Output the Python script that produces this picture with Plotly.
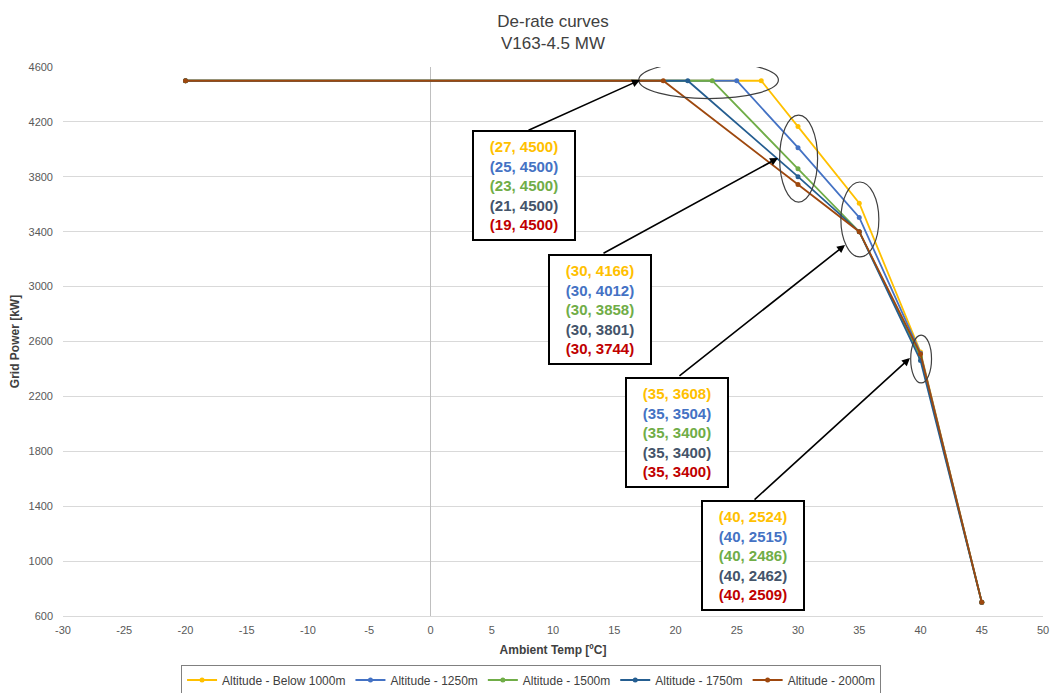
import plotly.graph_objects as go

# ---- data ----
series_names = ["Altitude - Below 1000m", "Altitude - 1250m", "Altitude - 1500m",
                "Altitude - 1750m", "Altitude - 2000m"]
line_colors = ["#FFC000", "#4472C4", "#70AD47", "#255E91", "#9E480E"]
label_colors = ["#FFC000", "#4472C4", "#70AD47", "#44546A", "#C00000"]

temp_below1000 = [-20, 27, 30, 35, 40, 45]
power_below1000 = [4500, 4500, 4166, 3608, 2524, 700]
temp_1250 = [-20, 25, 30, 35, 40, 45]
power_1250 = [4500, 4500, 4012, 3504, 2515, 700]
temp_1500 = [-20, 23, 30, 35, 40, 45]
power_1500 = [4500, 4500, 3858, 3400, 2486, 700]
temp_1750 = [-20, 21, 30, 35, 40, 45]
power_1750 = [4500, 4500, 3801, 3400, 2462, 700]
temp_2000 = [-20, 19, 30, 35, 40, 45]
power_2000 = [4500, 4500, 3744, 3400, 2509, 700]

temps = [temp_below1000, temp_1250, temp_1500, temp_1750, temp_2000]
powers = [power_below1000, power_1250, power_1500, power_1750, power_2000]

x_ticks = list(range(-30, 51, 5))
x_tick_labels = [str(v) for v in x_ticks]
y_ticks = list(range(600, 4601, 400))
y_tick_labels = [str(v) for v in y_ticks]

FONT = "Liberation Sans"

fig = go.Figure()
for name, c, xs, ys in zip(series_names, line_colors, temps, powers):
    fig.add_trace(go.Scatter(x=xs, y=ys, name=name, mode="lines+markers",
                             line=dict(color=c, width=1.8),
                             marker=dict(color=c, size=5)))

# ---- callout boxes (one per point index) ----
box_centers = [(7.65, 3735), (13.85, 2835), (20.1, 1938), (26.3, 1040)]
point_idx = [1, 2, 3, 4]
for (bx, by), pi in zip(box_centers, point_idx):
    lines = []
    for k in range(len(temps)):
        lines.append("<span style='color:%s'><b>(%d, %d)</b></span>"
                     % (label_colors[k], temps[k][pi], powers[k][pi]))
    fig.add_annotation(x=bx, y=by, xref="x", yref="y", text="<br>".join(lines),
                       showarrow=False, bgcolor="white", bordercolor="black",
                       borderwidth=2, borderpad=6, width=88,
                       font=dict(family=FONT, size=15))

# ---- arrows ----
arrows = [((7.88, 4134), (17.1, 4505)), ((14.0, 3237), (28.37, 3937)),
          ((20.2, 2341), (33.84, 3303)), ((26.33, 1438), (39.14, 2480))]
for (tx, ty), (hx, hy) in arrows:
    fig.add_annotation(x=hx, y=hy, ax=tx, ay=ty, xref="x", yref="y",
                       axref="x", ayref="y", text="", showarrow=True,
                       arrowhead=2, arrowsize=1, arrowwidth=1.6,
                       arrowcolor="black", standoff=0, startstandoff=0)

# ---- ellipses ----
ellipses = [(17.0, 4370, 28.4, 4640), (28.5, 3616, 31.6, 4250),
            (33.5, 3216, 36.6, 3762), (39.2, 2298, 40.9, 2647)]
for x0, y0, x1, y1 in ellipses:
    fig.add_shape(type="circle", xref="x", yref="y", x0=x0, y0=y0, x1=x1, y1=y1,
                  line=dict(color="#404040", width=1.2), layer="above")

fig.update_layout(
    width=1051, height=693,
    margin=dict(l=63, r=8, t=67, b=77, autoexpand=False),
    plot_bgcolor="white", paper_bgcolor="white",
    font=dict(family=FONT, color="#595959", size=11),
    title=dict(text="De-rate curves<br>V163-4.5 MW", x=0.5, xanchor="center",
               xref="paper", yref="container", y=0.961, yanchor="top",
               font=dict(family=FONT, size=17, color="#404040")),
    xaxis=dict(range=[-30, 50], tickvals=x_ticks, ticktext=x_tick_labels,
               showgrid=False, automargin=False,
               zeroline=True, zerolinecolor="#BFBFBF", zerolinewidth=1,
               showline=True, linecolor="#D9D9D9", linewidth=1,
               ticks="", ticklabelstandoff=4,
               tickfont=dict(size=11, color="#595959"),
               title=dict(text="<b>Ambient Temp [ºC]</b>", standoff=10,
                          font=dict(size=12, color="#404040"))),
    yaxis=dict(range=[600, 4600], tickvals=y_ticks, ticktext=y_tick_labels,
               showgrid=True, automargin=False,
               gridcolor="#D9D9D9", gridwidth=1, zeroline=False,
               showline=False, ticks="", ticklabelstandoff=9,
               tickfont=dict(size=11, color="#595959"),
               title=dict(text="<b>Grid Power [kW]</b>", standoff=6,
                          font=dict(size=12, color="#404040"))),
    legend=dict(orientation="h", x=0.4776, xanchor="center", y=-0.1166,
                yanchor="middle", bordercolor="#808080", borderwidth=1,
                font=dict(size=12, color="#404040"), traceorder="normal"),
    showlegend=True,
)

fig.write_html("out.html", config={"displayModeBar": False},
               post_script="document.body.style.margin='0';document.body.style.overflow='hidden';")
